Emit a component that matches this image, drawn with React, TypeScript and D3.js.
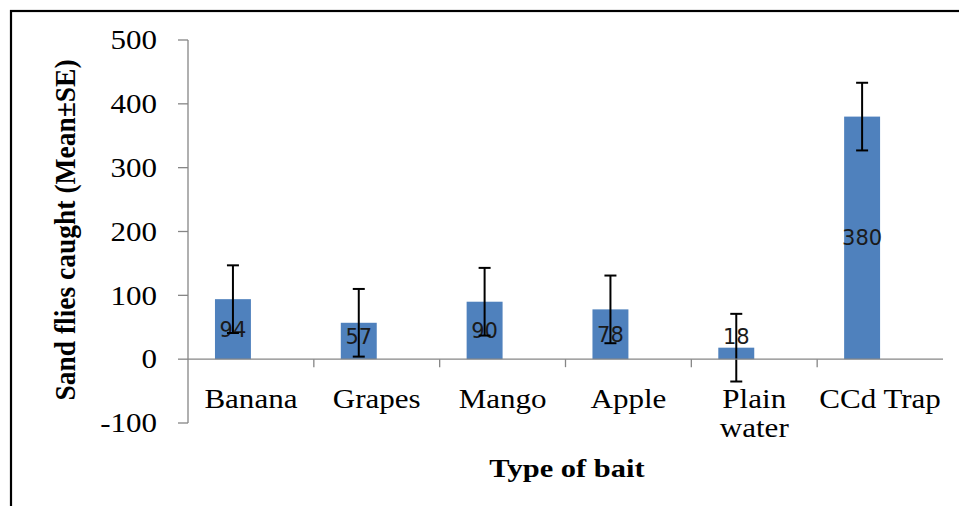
import React from "react";
import * as d3 from "d3";

const categories: string[][] = [["Banana"], ["Grapes"], ["Mango"], ["Apple"], ["Plain", "water"], ["CCd Trap"]];
const means: number[] = [94, 57, 90, 78, 18, 380];
const errors: number[] = [53, 53, 53, 53, 53, 53];
const yTicks: number[] = [-100, 0, 100, 200, 300, 400, 500];
const series: string[] = ["Mean", "Empty"];

const W = 959;
const H = 506;
const left = 188;
const right = 943;
const top = 40;
const bottom = 423;

export default function App() {
  const keys = categories.map((c) => c.join(" "));
  const x = d3.scaleBand<string>().domain(keys).range([left, right]).paddingInner(0).paddingOuter(0);
  const bw = x.bandwidth();
  const sub = d3.scaleBand<string>().domain(series).range([0, bw]).paddingInner(0).paddingOuter(0.75);
  const y = d3.scaleLinear().domain([-100, 500]).range([bottom, top]);
  const y0 = y(0);
  const axisColor = "#868686";
  const serif = "'Liberation Serif', 'Times New Roman', serif";

  return (
    <svg width={W} height={H} style={{ position: "absolute", left: 0, top: 0 }}>
      <rect x={0} y={0} width={W} height={H} fill="#fff" />
      <rect x={11} y={11} width={1200} height={800} fill="none" stroke="#000" strokeWidth={2.2} />

      {/* y axis */}
      <line x1={left} x2={left} y1={y(500)} y2={y(-100)} stroke={axisColor} strokeWidth={1.3} />
      {yTicks.map((t) => (
        <g key={t}>
          <line x1={left - 10} x2={left} y1={y(t)} y2={y(t)} stroke={axisColor} strokeWidth={1.3} />
          <text
            transform={`translate(157,${y(t)}) scale(1.17,1)`}
            textAnchor="end"
            dy="0.35em"
            fontFamily={serif}
            fontSize={26.5}
            fill="#000"
          >
            {t}
          </text>
        </g>
      ))}

      {/* bars */}
      {keys.map((k, i) => {
        const bx = (x(k) as number) + (sub("Mean") as number);
        const sw = sub.bandwidth();
        const cx = bx + sw / 2;
        const yt = y(means[i]);
        const barCenter = (yt + y0) / 2;
        const ly = Math.min(barCenter, y0 - 23);
        return (
          <g key={k}>
            <rect x={bx} y={Math.min(yt, y0)} width={sw} height={Math.abs(y0 - yt)} fill="#4F81BD" />
            <text
              x={cx}
              y={ly}
              dy="0.36em"
              textAnchor="middle"
              fontFamily="'DejaVu Sans', Verdana, sans-serif"
              fontSize={21}
              fill="#1a1a1a"
            >
              {means[i]}
            </text>
            <line x1={cx} x2={cx} y1={y(means[i] + errors[i])} y2={y(means[i] - errors[i])} stroke="#000" strokeWidth={2} />
            <line x1={cx - 6} x2={cx + 6} y1={y(means[i] + errors[i])} y2={y(means[i] + errors[i])} stroke="#000" strokeWidth={2} />
            <line x1={cx - 6} x2={cx + 6} y1={y(means[i] - errors[i])} y2={y(means[i] - errors[i])} stroke="#000" strokeWidth={2} />
          </g>
        );
      })}

      {/* x axis */}
      <line x1={left} x2={right} y1={y0} y2={y0} stroke={axisColor} strokeWidth={1.3} />
      {keys.slice(1).map((k) => (
        <line key={k} x1={x(k) as number} x2={x(k) as number} y1={y0} y2={y0 + 8} stroke={axisColor} strokeWidth={1.3} />
      ))}
      {categories.map((lines, i) => {
        const cx = (x(keys[i]) as number) + bw / 2;
        return (
          <g key={keys[i]}>
            {lines.map((ln, j) => (
              <text
                key={ln}
                transform={`translate(${cx},${408 + j * 29}) scale(1.15,1)`}
                textAnchor="middle"
                fontFamily={serif}
                fontSize={27}
                fill="#000"
              >
                {ln}
              </text>
            ))}
          </g>
        );
      })}

      {/* axis titles */}
      <text
        transform={`translate(567,477) scale(1.22,1)`}
        textAnchor="middle"
        fontFamily={serif}
        fontWeight="bold"
        fontSize={25}
        fill="#000"
      >
        Type of bait
      </text>
      <text
        transform={`translate(75,230) rotate(-90) scale(1,1.08)`}
        textAnchor="middle"
        fontFamily={serif}
        fontWeight="bold"
        fontSize={27.5}
        fill="#000"
      >
        Sand flies caught (Mean±SE)
      </text>
    </svg>
  );
}
